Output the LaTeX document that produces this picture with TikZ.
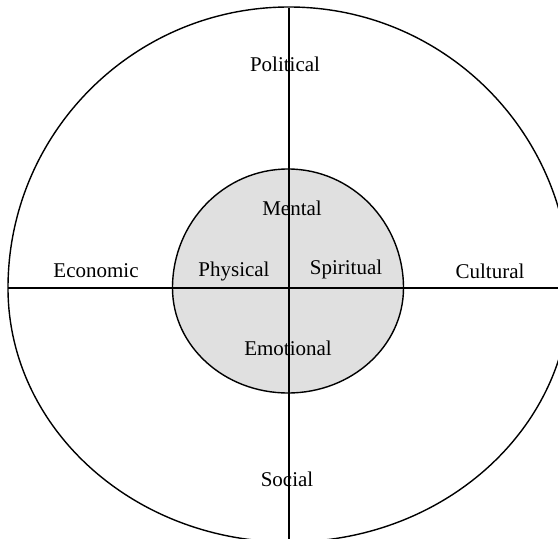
\documentclass[tikz,border=0pt]{standalone}
\usepackage{fontspec}
\setmainfont{Liberation Serif}
\begin{document}
\begin{tikzpicture}[x=1pt,y=1pt,
  lbl/.style={font=\fontsize{21}{25}\selectfont, inner sep=0pt, anchor=center},
  ring/.style={line width=1.4pt, line join=round},
  axis/.style={line width=1.7pt}]
\useasboundingbox (0,0) rectangle (558,539);
\clip (0,0) rectangle (558,539);
% outer ring
\draw[ring] (8,251) arc[start angle=180, end angle=0, radius=281]
  arc[start angle=0, end angle=-180, x radius=281, y radius=254] -- cycle;
% inner disc
\draw[ring, fill=black!12] (172.5,251) arc[start angle=180, end angle=0, x radius=115.5, y radius=119]
  arc[start angle=0, end angle=-180, x radius=115.5, y radius=105] -- cycle;
% axes
\coordinate (top) at (289,531);
\coordinate (bot) at (289,-2);
\coordinate (lft) at (8,251);
\coordinate (rgt) at (560,251);
\draw[axis] (top) -- (bot);
\draw[axis] (lft) -- (rgt);
% labels
\node[lbl] (political) at (285,475) {Political};
\node[lbl] (economic) at (96,268) {Economic};
\node[lbl] (cultural) at (490,268) {Cultural};
\node[lbl] (social) at (287,60) {Social};
\node[lbl] (mental) at (292,331) {Mental};
\node[lbl] (physical) at (234,268) {Physical};
\node[lbl] (spiritual) at (346,270) {Spiritual};
\node[lbl] (emotional) at (288,191) {Emotional};
\end{tikzpicture}
\end{document}
